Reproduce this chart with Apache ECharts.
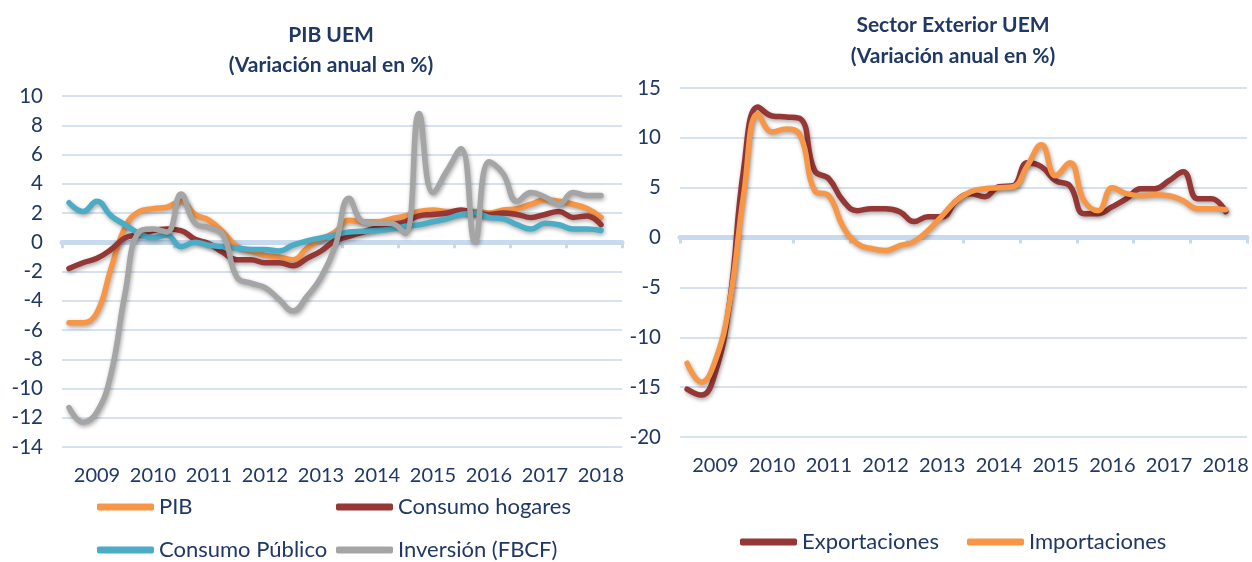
<!DOCTYPE html>
<html lang="es">
<head>
<meta charset="utf-8">
<title>PIB UEM · Sector Exterior UEM</title>
<script src="https://cdn.jsdelivr.net/npm/echarts@6/dist/echarts.min.js"></script>
<style>
  html, body { margin: 0; padding: 0; background: #ffffff; }
  #chart { width: 1252px; height: 562px; }
</style>
</head>
<body>
<div id="chart"></div>
<script>
// Years shown on the category axes; each year is split into four quarters
const years = ['2009', '2010', '2011', '2012', '2013', '2014', '2015', '2016', '2017', '2018'];
const quarterNames = ['T1', 'T2', 'T3', 'T4'];

// PIB UEM: annual change in %, quarterly (2009 T1 .. 2018 T3)
const pib = [
  -5.5, -5.5, -4.8, -1.8, 1.0, 2.1, 2.3, 2.4, 2.8, 1.9,
  1.5, 0.7, -0.3, -0.6, -0.9, -1.0, -1.2, -0.4, 0.2, 0.7,
  1.5, 1.4, 1.4, 1.6, 1.8, 2.1, 2.2, 2.1, 2.1, 2.1,
  2.0, 2.2, 2.3, 2.6, 2.9, 2.8, 2.6, 2.3, 1.7
];
const consumoHogares = [
  -1.8, -1.4, -1.1, -0.5, 0.3, 0.5, 0.8, 0.9, 0.8, 0.2,
  -0.1, -0.7, -1.2, -1.2, -1.4, -1.4, -1.6, -1.1, -0.6, 0.1,
  0.4, 0.7, 1.0, 1.2, 1.4, 1.8, 1.9, 2.0, 2.2, 2.0,
  1.9, 2.0, 1.9, 1.7, 1.9, 2.1, 1.7, 1.8, 1.2
];
const consumoPublico = [
  2.7, 2.1, 2.8, 1.8, 1.2, 0.6, 0.3, 0.5, -0.3, 0.0,
  -0.2, -0.3, -0.4, -0.5, -0.5, -0.6, -0.2, 0.1, 0.3, 0.5,
  0.7, 0.75, 0.8, 0.9, 1.1, 1.2, 1.4, 1.6, 1.9, 2.0,
  1.7, 1.6, 1.2, 0.9, 1.3, 1.2, 0.9, 0.9, 0.8
];
const inversion = [
  -11.3, -12.3, -11.6, -9.0, -3.5, 0.7, 0.9, 0.7, 3.3, 1.3,
  1.0, 0.5, -2.4, -2.8, -3.1, -3.9, -4.7, -3.7, -2.4, -0.3,
  3.0, 1.4, 1.3, 1.3, 0.6, 8.8, 3.4, 4.9, 6.4, 0.0,
  5.5, 4.7, 2.8, 3.4, 3.1, 2.6, 3.4, 3.2, 3.2
];

// Sector exterior UEM: annual change in %, quarterly (2009 T1 .. 2018 T3)
const exportaciones = [
  -15.2, -15.8, -13.5, -6.5, 7.0, 13.1, 12.2, 12.1, 11.9, 6.7,
  5.9, 3.7, 2.7, 2.9, 2.9, 2.6, 1.6, 2.1, 2.1, 3.7,
  4.4, 4.1, 5.1, 5.2, 7.5, 7.1, 5.7, 5.2, 2.4, 2.4,
  3.1, 3.9, 4.9, 4.9, 5.7, 6.6, 3.9, 3.9, 2.6
];
const importaciones = [
  -12.6, -14.5, -12.3, -6.5, 4.4, 12.4, 10.6, 10.9, 10.2, 4.7,
  4.2, 1.1, -0.6, -1.1, -1.3, -0.8, -0.4, 0.7, 2.2, 3.7,
  4.6, 4.9, 5.0, 5.1, 7.2, 9.3, 6.2, 7.5, 3.7, 2.7,
  5.0, 4.4, 4.2, 4.3, 4.2, 3.7, 2.9, 2.9, 2.8
];

const quarters = [];
years.forEach(y => quarterNames.forEach(q => quarters.push(y + ' ' + q)));

const navy = '#203864';
const gridBlue = '#d6e2f2';
const axisBlue = '#c8daf0';
const fontFamily = 'Lato, "Open Sans", sans-serif';

const colors = {
  pib: '#f79646',
  hogares: '#953735',
  publico: '#4bacc6',
  inversion: '#a5a5a5'
};

function zeroAxis(gridIndex) {
  // axis drawn on the zero line, with year separators
  return {
    type: 'category', gridIndex: gridIndex, data: quarters, boundaryGap: true,
    axisLine: { onZero: true, lineStyle: { color: axisBlue, width: 5 } },
    axisTick: { show: true, length: 6, interval: (i) => i % 4 === 0,
                lineStyle: { color: axisBlue, width: 3 } },
    axisLabel: { show: false },
    splitLine: { show: false }
  };
}
function labelAxis(gridIndex) {
  // year labels along the bottom of the plot
  return {
    type: 'category', gridIndex: gridIndex, data: quarters, boundaryGap: true,
    position: 'bottom',
    axisLine: { show: false, onZero: false },
    axisTick: { show: false },
    axisLabel: { show: true, interval: (i) => i % 4 === 2, formatter: (v) => v.slice(0, 4),
                 color: navy, fontSize: 20, fontFamily: fontFamily, margin: 19 },
    splitLine: { show: false }
  };
}
function valueAxis(gridIndex, min, max, interval) {
  return {
    type: 'value', gridIndex: gridIndex, min: min, max: max, interval: interval,
    axisLine: { show: false }, axisTick: { show: false },
    axisLabel: { color: navy, fontSize: 20.5, fontFamily: fontFamily, margin: 19 },
    splitLine: { lineStyle: { color: gridBlue, width: 2 } }
  };
}
function line(name, data, color, xAxisIndex, yAxisIndex) {
  return {
    name: name, type: 'line', data: data, xAxisIndex: xAxisIndex, yAxisIndex: yAxisIndex,
    smooth: 0.45, showSymbol: false, symbol: 'none', color: color,
    lineStyle: { width: 5.5, color: color, cap: 'round', join: 'round',
                 shadowColor: 'rgba(0,0,0,0.35)', shadowBlur: 4, shadowOffsetX: 1, shadowOffsetY: 2 },
    emphasis: { disabled: true }
  };
}
function legendItem(name, left, top) {
  return {
    data: [name], left: left, top: top, padding: 0, icon: 'roundRect', itemWidth: 57, itemHeight: 7,
    itemStyle: { shadowBlur: 0, shadowOffsetX: 0, shadowOffsetY: 0 },
    textStyle: { color: navy, fontSize: 22, fontFamily: fontFamily, lineHeight: 24 },
    selectedMode: false
  };
}

const chart = echarts.init(document.getElementById('chart'), null, { renderer: 'canvas' });
chart.setOption({
  backgroundColor: '#ffffff',
  animation: false,
  textStyle: { fontFamily: fontFamily },
  title: [
    { text: 'PIB UEM\n(Variación anual en %)', left: 326, top: 15, textAlign: 'center',
      textStyle: { color: navy, fontSize: 21, fontWeight: 'bold', lineHeight: 30, fontFamily: fontFamily } },
    { text: 'Sector Exterior UEM\n(Variación anual en %)', left: 948, top: 5, textAlign: 'center',
      textStyle: { color: navy, fontSize: 21, fontWeight: 'bold', lineHeight: 31, fontFamily: fontFamily } }
  ],
  grid: [
    { left: 62, top: 96, width: 560, height: 351 },
    { left: 680, top: 88, width: 567, height: 349 }
  ],
  xAxis: [zeroAxis(0), labelAxis(0), zeroAxis(1), labelAxis(1)],
  yAxis: [valueAxis(0, -14, 10, 2), valueAxis(1, -20, 15, 5)],
  legend: [
    legendItem('PIB', 97, 495),
    legendItem('Consumo hogares', 336, 495),
    legendItem('Consumo Público', 97, 538),
    legendItem('Inversión (FBCF)', 336, 538),
    legendItem('Exportaciones', 740, 530),
    legendItem('Importaciones', 967, 530)
  ],
  series: [
    line('PIB', pib, colors.pib, 0, 0),
    line('Consumo hogares', consumoHogares, colors.hogares, 0, 0),
    line('Consumo Público', consumoPublico, colors.publico, 0, 0),
    line('Inversión (FBCF)', inversion, colors.inversion, 0, 0),
    line('Exportaciones', exportaciones, colors.hogares, 2, 1),
    line('Importaciones', importaciones, colors.pib, 2, 1)
  ]
});
</script>
</body>
</html>
